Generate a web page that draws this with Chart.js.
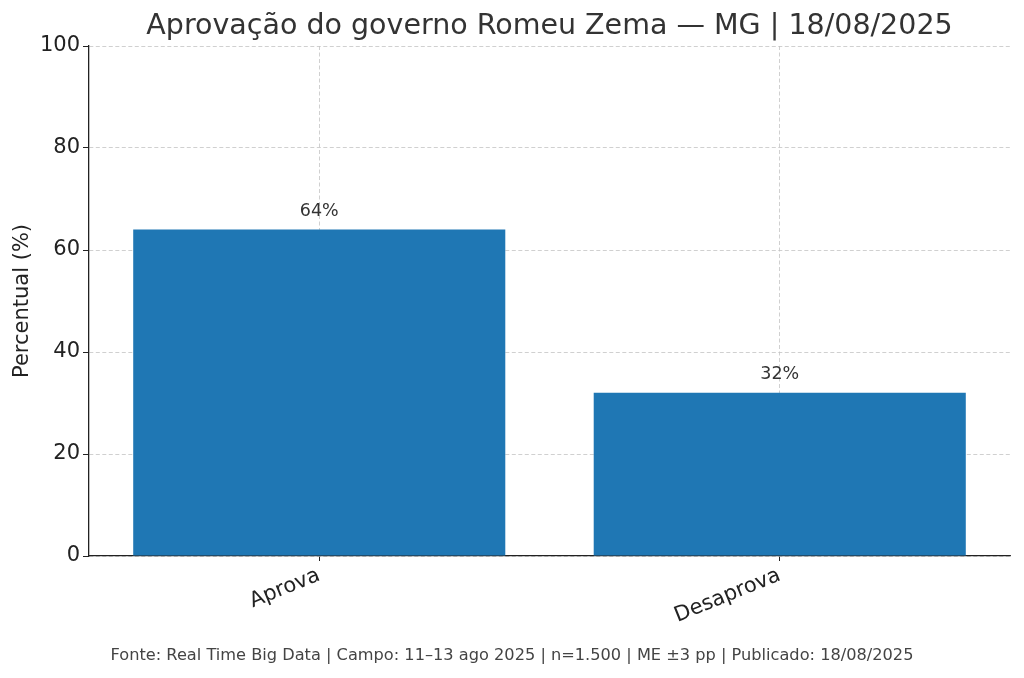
<!DOCTYPE html>
<html>
<head>
<meta charset="utf-8">
<script src="https://cdn.jsdelivr.net/npm/chart.js@4.4.1/dist/chart.umd.min.js"></script>
<style>
  html, body { margin: 0; padding: 0; background: #fff; }
  #wrap { width: 1024px; height: 678px; }
</style>
</head>
<body>
<div id="wrap"><canvas id="chart" width="1024" height="678"></canvas></div>
<script>
const categories = ['Aprova', 'Desaprova'];
const values = [64, 32];
const yTicks = [0, 20, 40, 60, 80, 100];

const titleText = 'Aprovação do governo Romeu Zema — MG | 18/08/2025';
const footerText = 'Fonte: Real Time Big Data | Campo: 11–13 ago 2025 | n=1.500 | ME ±3 pp | Publicado: 18/08/2025';
const FONT = "'DejaVu Sans', sans-serif";

// title, footer and value labels drawn on the canvas
const textPlugin = {
    id: 'textPlugin',
    afterDraw(chart) {
        const ctx = chart.ctx;
        const area = chart.chartArea;
        ctx.save();
        ctx.fillStyle = '#333';
        ctx.textAlign = 'center';
        ctx.textBaseline = 'middle';
        ctx.font = `28.5px ${FONT}`;
        ctx.fillText(titleText, (area.left + area.right) / 2, 27);

        ctx.font = `16.2px ${FONT}`;
        ctx.fillStyle = '#444';
        ctx.fillText(footerText, chart.width / 2, 656);

        ctx.font = `17.5px ${FONT}`;
        ctx.fillStyle = '#333';
        const meta = chart.getDatasetMeta(0);
        meta.data.forEach((bar, i) => {
            ctx.fillText(values[i] + '%', bar.x, bar.y - 18);
        });
        ctx.restore();
    }
};

new Chart(document.getElementById('chart'), {
    type: 'bar',
    data: {
        labels: categories,
        datasets: [{
            data: values,
            backgroundColor: '#1f77b4',
            borderWidth: 0,
            categoryPercentage: 1,
            barPercentage: 0.808
        }]
    },
    options: {
        responsive: false,
        animation: false,
        devicePixelRatio: 1,
        layout: { padding: { left: 0, right: 14, top: 46, bottom: 0 } },
        plugins: {
            legend: { display: false },
            tooltip: { enabled: false }
        },
        scales: {
            x: {
                grid: {
                    offset: false,
                    color: '#c4c4c4',
                    lineWidth: 0.8,
                    tickLength: 5,
                    tickColor: '#222',
                    tickBorderDash: [],
                    tickWidth: 1
                },
                border: { display: true, color: '#222', width: 1.3, dash: [4, 2.5] },
                ticks: {
                    color: '#222',
                    font: { family: FONT, size: 21 },
                    maxRotation: 22,
                    minRotation: 22,
                    padding: 2
                },
                afterFit(scale) { scale.height = 122; }
            },
            y: {
                min: 0,
                max: 100,
                afterBuildTicks(scale) { scale.ticks = yTicks.map(v => ({ value: v })); },
                grid: {
                    color: '#c4c4c4',
                    lineWidth: 0.8,
                    tickLength: 6,
                    tickColor: '#222',
                    tickBorderDash: [],
                    tickWidth: 1
                },
                border: { display: true, color: '#222', width: 1.3, dash: [4, 2.5] },
                ticks: {
                    color: '#222',
                    font: { family: FONT, size: 21 },
                    padding: 3
                },
                title: {
                    display: true,
                    text: 'Percentual (%)',
                    color: '#222',
                    font: { family: FONT, size: 21 },
                    padding: { top: 10, bottom: 0 }
                },
                afterFit(scale) { scale.width = 89; }
            }
        }
    },
    plugins: [textPlugin]
});
</script>
</body>
</html>
